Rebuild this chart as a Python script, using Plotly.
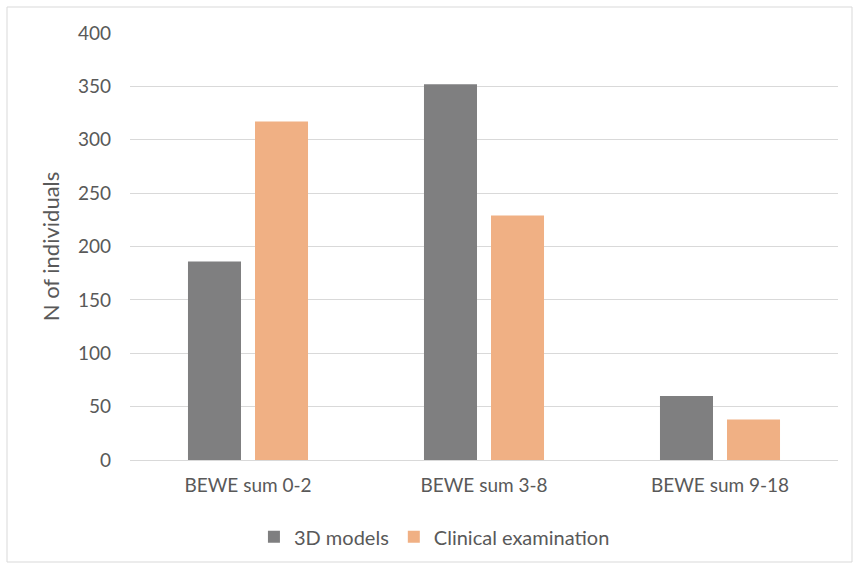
import plotly.graph_objects as go

categories = ["BEWE sum 0-2", "BEWE sum 3-8", "BEWE sum 9-18"]
models_3d = [186, 352, 60]
clinical = [317, 229, 38]
y_ticks = [0, 50, 100, 150, 200, 250, 300, 350, 400]

font_family = "Lato, 'Open Sans', Arial, sans-serif"
text_color = "#595959"

fig = go.Figure()
fig.add_trace(go.Bar(x=categories, y=models_3d, name="3D models",
                     marker=dict(color="#7F7F80", line=dict(width=0))))
fig.add_trace(go.Bar(x=categories, y=clinical, name="Clinical examination",
                     marker=dict(color="#F0B084", line=dict(width=0))))

fig.update_layout(
    width=859, height=569,
    margin=dict(l=130, r=21, t=33, b=109),
    paper_bgcolor="white", plot_bgcolor="white",
    barmode="group", bargap=0.432, bargroupgap=0.209,
    font=dict(family=font_family, color=text_color, size=19),
    showlegend=True,
    legend=dict(orientation="h", x=0.43, xanchor="center", y=-0.18, yanchor="middle",
                font=dict(size=20, color=text_color), itemsizing="constant",
                traceorder="normal", itemwidth=30),
    xaxis=dict(showgrid=False, showline=False, ticks="", tickfont=dict(size=19, color=text_color),
               ticklabelstandoff=12),
    yaxis=dict(range=[0, 400], tickvals=y_ticks, showgrid=True, gridcolor="#D9D9D9", gridwidth=1,
               zeroline=True, zerolinecolor="#D9D9D9", zerolinewidth=1, showline=False,
               tickfont=dict(size=19, color=text_color), ticklabelstandoff=18,
               title=dict(text="N of individuals", font=dict(size=22, color=text_color), standoff=12)),
    shapes=[dict(type="rect", xref="paper", yref="paper",
                 x0=-123/708, x1=(852-130)/708, y0=-(562-460)/427, y1=(460-7)/427,
                 line=dict(color="#D9D9D9", width=1), fillcolor="rgba(0,0,0,0)", layer="below")],
)

fig.write_html("out.html")
